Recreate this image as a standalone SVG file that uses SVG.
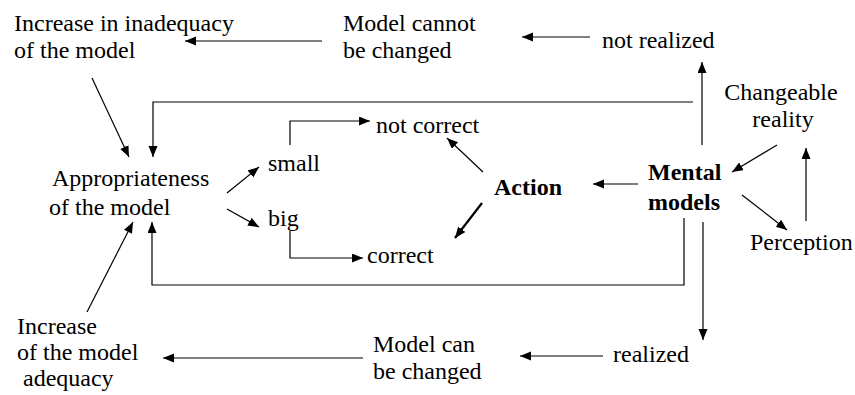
<svg xmlns="http://www.w3.org/2000/svg" width="855" height="395" viewBox="0 0 855 395">
<style>
.b{font-weight:bold}
.c{fill:none;stroke:#000;stroke-width:1.2}
.t{stroke-width:2.2}
</style>
<defs>
<marker id="ah" markerUnits="userSpaceOnUse" markerWidth="12" markerHeight="10" refX="11" refY="4.5" orient="auto">
<path d="M0,0 L11,4.5 L0,9 z" fill="#000"/>
</marker>
</defs>
<rect width="855" height="395" fill="#fff"/>
<g font-family="'Liberation Serif', serif" font-size="24" fill="#000">
<g id="n-inadequacy"><text x="14" y="31">Increase in inadequacy</text><text x="14" y="58">of the model</text></g>
<g id="n-cannot"><text x="343" y="31">Model cannot</text><text x="343" y="58">be changed</text></g>
<g id="n-notrealized"><text x="602" y="48">not realized</text></g>
<g id="n-changeable"><text x="781" y="100" text-anchor="middle">Changeable</text><text x="783" y="127" text-anchor="middle">reality</text></g>
<g id="n-notcorrect"><text x="376" y="133">not correct</text></g>
<g id="n-small"><text x="268" y="171">small</text></g>
<g id="n-appropriateness"><text x="52" y="186">Appropriateness</text><text x="49" y="215">of the model</text></g>
<g id="n-big"><text x="268" y="226">big</text></g>
<g id="n-correct"><text x="367" y="263">correct</text></g>
<g id="n-action"><text class="b" x="494" y="195">Action</text></g>
<g id="n-mental"><text class="b" x="648" y="180">Mental</text><text class="b" x="648" y="210">models</text></g>
<g id="n-perception"><text x="750" y="250">Perception</text></g>
<g id="n-realized"><text x="613" y="362">realized</text></g>
<g id="n-can"><text x="373" y="352">Model can</text><text x="373" y="379">be changed</text></g>
<g id="n-adequacy"><text x="17" y="334">Increase</text><text x="17" y="360">of the model</text><text x="23" y="386">adequacy</text></g>
</g>
<g id="connectors">
<path class="c" marker-end="url(#ah)" d="M322,41 H185"/>
<path class="c" marker-end="url(#ah)" d="M590,37 H522"/>
<path class="c" marker-end="url(#ah)" d="M702,145 V62"/>
<path class="c" marker-end="url(#ah)" d="M693,102 H153 V157"/>
<path class="c" marker-end="url(#ah)" d="M92,78 L129,157"/>
<path class="c" marker-end="url(#ah)" d="M777,145 L732,172"/>
<path class="c" marker-end="url(#ah)" d="M806,221 V148"/>
<path class="c" marker-end="url(#ah)" d="M638,184 H593"/>
<path class="c" marker-end="url(#ah)" d="M483,172 L447,138"/>
<path class="c t" marker-end="url(#ah)" d="M482,203 L455,238"/>
<path class="c" marker-end="url(#ah)" d="M290,145 V121 H370"/>
<path class="c" marker-end="url(#ah)" d="M227,193 L259,167"/>
<path class="c" marker-end="url(#ah)" d="M227,209 L259,227"/>
<path class="c" marker-end="url(#ah)" d="M290,231 V258 H363"/>
<path class="c" marker-end="url(#ah)" d="M684,218 V285 H152 V222"/>
<path class="c" marker-end="url(#ah)" d="M87,312 L133,222"/>
<path class="c" marker-end="url(#ah)" d="M703,222 V340"/>
<path class="c" marker-end="url(#ah)" d="M742,195 L787,230"/>
<path class="c" marker-end="url(#ah)" d="M603,356 H520"/>
<path class="c" marker-end="url(#ah)" d="M363,358 H163"/>
</g>
</svg>
